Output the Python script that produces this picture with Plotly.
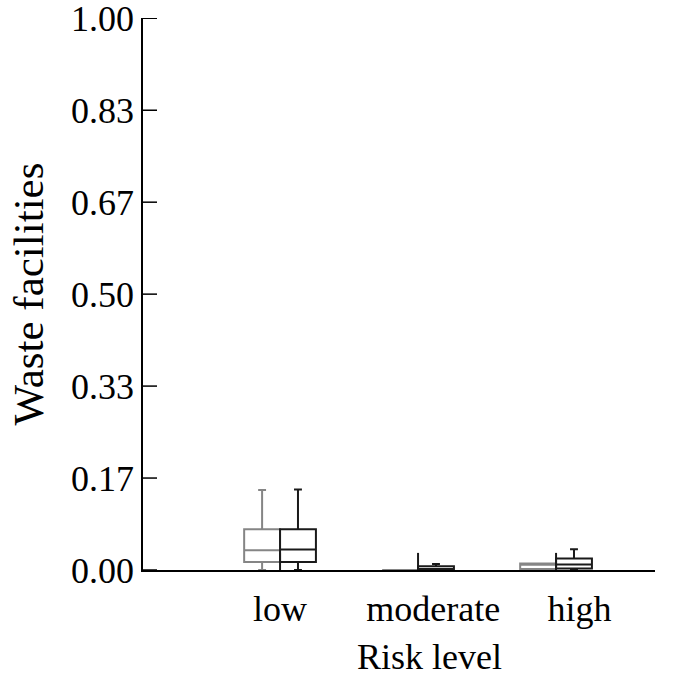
import plotly.graph_objects as go

# ---- data ----
categories = ["low", "moderate", "high"]
cat_pos = [0.0, 1.0, 2.0]
label_pos = [0.0, 1.11, 2.17]

gray_lo = [0.0, 0.0, 0.002]
gray_q1 = [0.0145, 0.0, 0.002]
gray_med = [0.036, 0.0, 0.0095]
gray_q3 = [0.074, 0.0, 0.012]
gray_hi = [0.145, 0.0, 0.012]

black_lo = [0.0, 0.0, 0.0]
black_q1 = [0.0145, 0.0, 0.0025]
black_med = [0.037, 0.002, 0.010]
black_q3 = [0.074, 0.007, 0.021]
black_hi = [0.146, 0.011, 0.0375]

spike_top = [0.031, 0.031, 0.031]

y_ticks = [0, 1/6, 2/6, 3/6, 4/6, 5/6, 1]

# ---- style ----
FONT = "Liberation Serif, Times New Roman, serif"
BW = 0.26
GRAY = "#858585"
BLACK = "#1a1a1a"

fig = go.Figure()

fig.add_trace(go.Box(
    x=[p - BW / 2 for p in cat_pos],
    q1=gray_q1, median=gray_med, q3=gray_q3,
    lowerfence=gray_lo, upperfence=gray_hi,
    width=BW, whiskerwidth=0.22,
    line=dict(color=GRAY, width=2), fillcolor="rgba(0,0,0,0)",
    boxpoints=False, showlegend=False, hoverinfo="skip",
))
fig.add_trace(go.Box(
    x=[p + BW / 2 for p in cat_pos],
    q1=black_q1, median=black_med, q3=black_q3,
    lowerfence=black_lo, upperfence=black_hi,
    width=BW, whiskerwidth=0.22,
    line=dict(color=BLACK, width=2), fillcolor="rgba(0,0,0,0)",
    boxpoints=False, showlegend=False, hoverinfo="skip",
))

# thin vertical spikes at the boundary between paired boxes
sx, sy = [], []
for p, t in zip(cat_pos, spike_top):
    sx += [p, p, None]
    sy += [0, t, None]
fig.add_trace(go.Scatter(x=sx, y=sy, mode="lines",
                         line=dict(color=BLACK, width=2),
                         showlegend=False, hoverinfo="skip"))

# inside tick marks on the y axis (14 px long)
tick_shapes = [
    dict(type="line", xref="paper", yref="y", xsizemode="pixel", xanchor=0,
         x0=0, x1=14, y0=v, y1=v, line=dict(color="black", width=1.5),
         layer="above")
    for v in y_ticks
]

fig.update_layout(
    width=686, height=679,
    margin=dict(l=143, r=31, t=18, b=109, autoexpand=False),
    paper_bgcolor="white", plot_bgcolor="white",
    boxmode="overlay",
    font=dict(family=FONT, size=36, color="black"),
    xaxis=dict(
        range=[-0.993, 2.717], showgrid=False, zeroline=False,
        showline=True, linecolor="black", linewidth=1.5,
        tickvals=label_pos, ticktext=categories, ticks="",
        ticklabelstandoff=6, automargin=False,
    ),
    yaxis=dict(
        range=[0, 1.0005], showgrid=False, zeroline=False,
        showline=True, linecolor="black", linewidth=1.5,
        tickmode="array",
        tickvals=y_ticks, ticktext=[f"{v:.2f}" for v in y_ticks],
        ticks="",
        ticklabeloverflow="allow", automargin=False,
        title=dict(text="Waste facilities", standoff=14),
    ),
    shapes=tick_shapes,
    annotations=[dict(
        text="Risk level", xref="paper", yref="paper",
        x=0.5605, y=0, yshift=-87, xanchor="center", yanchor="middle",
        showarrow=False, font=dict(family=FONT, size=36, color="black"),
    )],
)

fig.write_html("out.html")
